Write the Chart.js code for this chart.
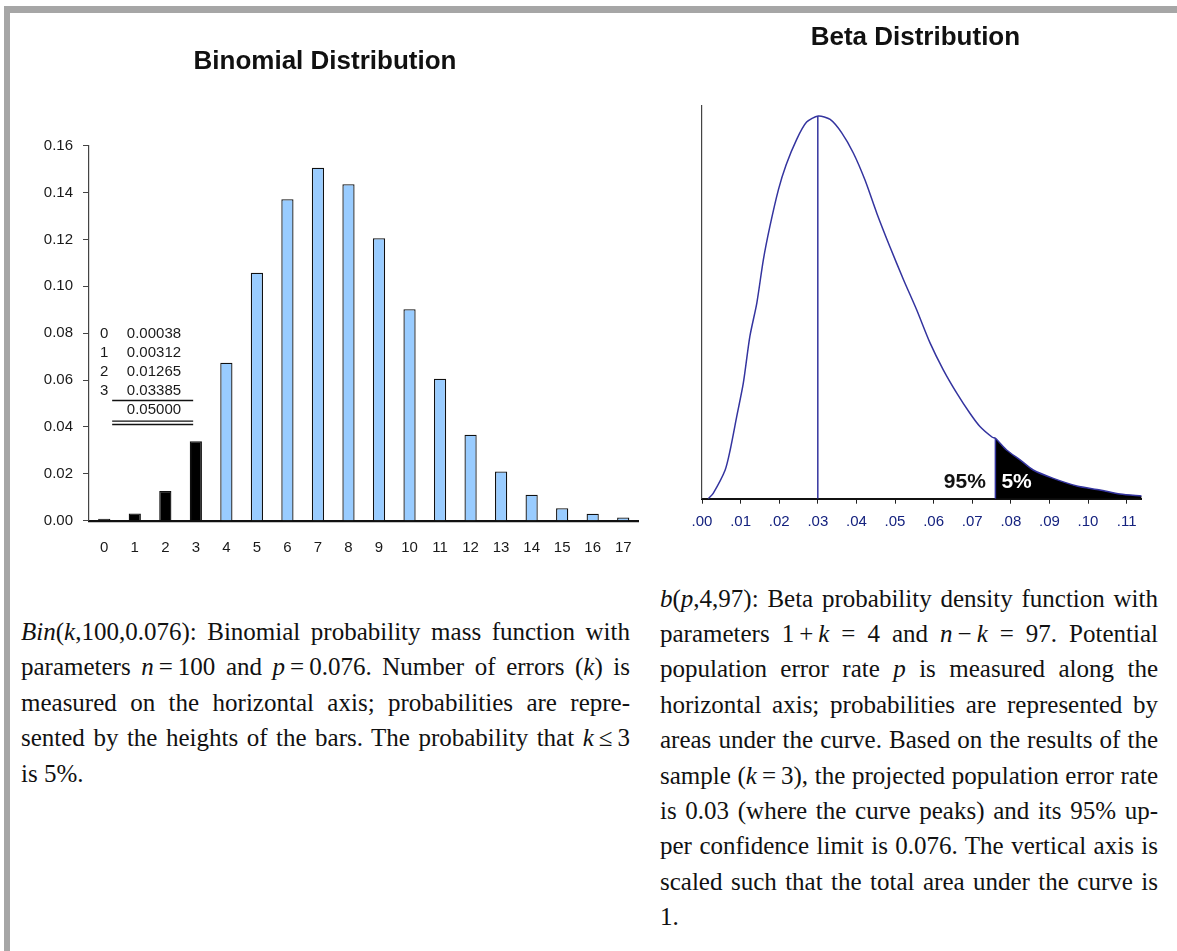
<!DOCTYPE html>
<html>
<head>
<meta charset="utf-8">
<script src="https://cdn.jsdelivr.net/npm/chart.js@4.4.0/dist/chart.umd.min.js"></script>
<style>
  html, body { margin: 0; padding: 0; background: #fff; overflow: hidden; }
  body { width: 1177px; height: 951px; position: relative; }
  .rule-top { position: absolute; left: 4px; top: 5.5px; width: 1173px; height: 7px; background: #a6a6a6; }
  .rule-left { position: absolute; left: 4px; top: 5.5px; width: 6px; height: 946px; background: #a6a6a6; }
  canvas { position: absolute; top: 0; }
  #binomCanvas { left: 0; }
  #betaCanvas { left: 675px; }
  .para { position: absolute; font-family: "Liberation Serif", "Times New Roman", serif;
          font-size: 25px; line-height: 35.4px; color: #111; }
  .para div { text-align: justify; text-align-last: justify; }
  .para div.last { text-align-last: left; }
  #binomText { left: 21px; top: 613.9px; width: 609px; }
  #betaText { left: 660px; top: 580.6px; width: 498px; }
</style>
</head>
<body>
  <div class="rule-top"></div>
  <div class="rule-left"></div>
  <canvas id="binomCanvas" width="650" height="570"></canvas>
  <canvas id="betaCanvas" width="502" height="570"></canvas>

  <div id="binomText" class="para">
    <div><i>Bin</i>(<i>k</i>,100,0.076): Binomial probability mass function with</div>
    <div>parameters <i>n</i>&#8201;=&#8201;100 and <i>p</i>&#8201;=&#8201;0.076. Number of errors (<i>k</i>) is</div>
    <div>measured on the horizontal axis; probabilities are repre-</div>
    <div>sented by the heights of the bars. The probability that <i>k</i>&#8201;≤&#8201;3</div>
    <div class="last">is 5%.</div>
  </div>

  <div id="betaText" class="para">
    <div><i>b</i>(<i>p</i>,4,97): Beta probability density function with</div>
    <div>parameters 1&#8201;+&#8201;<i>k</i> = 4 and <i>n</i>&#8201;−&#8201;<i>k</i> = 97. Potential</div>
    <div>population error rate <i>p</i> is measured along the</div>
    <div>horizontal axis; probabilities are represented by</div>
    <div>areas under the curve. Based on the results of the</div>
    <div>sample (<i>k</i>&#8201;=&#8201;3), the projected population error rate</div>
    <div>is 0.03 (where the curve peaks) and its 95% up-</div>
    <div>per confidence limit is 0.076. The vertical axis is</div>
    <div>scaled such that the total area under the curve is</div>
    <div class="last">1.</div>
  </div>

<script>
// Binomial chart data
const binomK = ['0', '1', '2', '3', '4', '5', '6', '7', '8', '9', '10', '11', '12', '13', '14', '15', '16', '17'];
const binomProb = [0.00038, 0.00312, 0.01265, 0.03385, 0.0674, 0.1058, 0.1372, 0.1506, 0.1436, 0.1205,
                   0.0902, 0.0606, 0.0367, 0.0210, 0.0111, 0.0053, 0.0030, 0.0014];
const lowerTailMax = 3; // bars k <= 3 are shaded black
const binomTableRows = [['0', '0.00038'], ['1', '0.00312'], ['2', '0.01265'], ['3', '0.03385']];
const binomTableTotal = '0.05000';

// Beta chart data
const betaP = [0.0016, 0.0029, 0.0060, 0.0073, 0.0090, 0.0107, 0.0124, 0.0142, 0.0159, 0.0176,
               0.0198, 0.0218, 0.0245, 0.0271, 0.0301, 0.0332, 0.0362, 0.0392, 0.0422, 0.0453,
               0.0487, 0.0522, 0.0556, 0.0591, 0.0625, 0.0660, 0.0694, 0.0720, 0.0752, 0.0760,
               0.0789, 0.0824, 0.0858, 0.0910, 0.0971, 0.1031, 0.1083, 0.1139];
const betaDensity = [0, 0.32, 1.71, 2.9, 4.9, 6.88, 9.67, 11.66, 14.25, 16.24,
                     18.42, 19.9, 21.4, 22.44, 22.8, 22.6, 21.8, 20.6, 19.0, 17.0,
                     15.0, 13.05, 11.26, 9.27, 7.68, 6.29, 5.09, 4.30, 3.66, 3.60,
                     2.90, 2.31, 1.71, 1.21, 0.76, 0.52, 0.28, 0.16];
const modeP = 0.03, modeDensity = 22.8;
const betaLimit = 0.076, limitDensity = 3.60;
const betaTicks = [0, 0.01, 0.02, 0.03, 0.04, 0.05, 0.06, 0.07, 0.08, 0.09, 0.10, 0.11];
const betaTickLabels = ['.00', '.01', '.02', '.03', '.04', '.05', '.06', '.07', '.08', '.09', '.10', '.11'];

Chart.defaults.font.family = '"Liberation Sans", Arial, sans-serif';
Chart.defaults.color = '#1a1a1a';

const navy = '#34349f';

// little sum table drawn inside the binomial plot
const binomTable = {
  id: 'binomTable',
  afterDatasetsDraw(chart) {
    const { ctx, scales: { x, y } } = chart;
    const x0 = x.getPixelForValue(0);
    const yTop = y.getPixelForValue(0.08) + 0.8;
    ctx.save();
    ctx.font = '15px "Liberation Sans", Arial, sans-serif';
    ctx.fillStyle = '#1a1a1a';
    ctx.textBaseline = 'middle';
    binomTableRows.forEach((row, i) => {
      ctx.textAlign = 'center';
      ctx.fillText(row[0], x0, yTop + i * 19);
      ctx.textAlign = 'left';
      ctx.fillText(row[1], x0 + 22.6, yTop + i * 19);
    });
    ctx.fillText(binomTableTotal, x0 + 22.6, yTop + 75.7);
    ctx.strokeStyle = '#111';
    ctx.lineWidth = 1.6;
    ctx.beginPath();
    ctx.moveTo(x0 + 7.9, yTop + 66.5); ctx.lineTo(x0 + 88.9, yTop + 66.5);
    ctx.stroke();
    ctx.lineWidth = 1.3;
    ctx.beginPath();
    ctx.moveTo(x0 + 7.9, yTop + 87.2); ctx.lineTo(x0 + 88.9, yTop + 87.2);
    ctx.moveTo(x0 + 7.9, yTop + 90.5); ctx.lineTo(x0 + 88.9, yTop + 90.5);
    ctx.stroke();
    ctx.restore();
  }
};

// 95% / 5% labels either side of the upper limit
const tailLabels = {
  id: 'tailLabels',
  afterDatasetsDraw(chart) {
    const { ctx, scales: { x, y } } = chart;
    const px = x.getPixelForValue(betaLimit);
    const base = y.getPixelForValue(0) - 10.7;
    ctx.save();
    ctx.font = 'bold 21px "Liberation Sans", Arial, sans-serif';
    ctx.textBaseline = 'alphabetic';
    ctx.fillStyle = '#111';
    ctx.textAlign = 'right';
    ctx.fillText('95%', px - 9.5, base);
    ctx.fillStyle = '#fff';
    ctx.textAlign = 'left';
    ctx.fillText('5%', px + 6, base);
    ctx.restore();
  }
};

new Chart(document.getElementById('binomCanvas'), {
  type: 'bar',
  data: {
    labels: binomK,
    datasets: [{
      data: binomProb,
      backgroundColor: binomK.map((k, i) => i <= lowerTailMax ? '#000000' : '#99ccff'),
      borderColor: '#111',
      borderWidth: 1.3,
      minBarLength: 2,
      barPercentage: 0.4,
      categoryPercentage: 1.0
    }]
  },
  options: {
    responsive: false,
    animation: false,
    layout: { padding: { left: 5, right: 5, top: 0, bottom: 0 } },
    plugins: {
      legend: { display: false },
      tooltip: { enabled: false },
      title: {
        display: true,
        text: 'Binomial Distribution',
        color: '#111',
        font: { size: 26, weight: 'bold' },
        padding: { top: 46.4, bottom: 68.1 }
      }
    },
    scales: {
      x: {
        grid: { display: false, drawTicks: false },
        border: { color: '#111', width: 2.2 },
        ticks: { font: { size: 15 }, padding: 18.3, maxRotation: 0, autoSkip: false },
        afterFit: s => { s.height = 49.3; }
      },
      y: {
        min: 0,
        max: 0.16,
        grid: { drawOnChartArea: false, tickLength: 6, color: '#444' },
        border: { color: '#444', width: 1.2 },
        ticks: { stepSize: 0.02, font: { size: 15 }, padding: 10, callback: v => v.toFixed(2) },
        afterFit: s => { s.width = 84; }
      }
    }
  },
  plugins: [binomTable]
});

const curvePts = betaP.map((p, i) => ({ x: p, y: betaDensity[i] }));
const tailPts = curvePts.filter(pt => pt.x >= betaLimit);

new Chart(document.getElementById('betaCanvas'), {
  type: 'line',
  data: {
    datasets: [
      { data: curvePts, borderColor: navy, borderWidth: 1.5, pointRadius: 0, tension: 0.25, fill: false },
      { data: [{ x: modeP, y: 0 }, { x: modeP, y: modeDensity }], borderColor: navy, borderWidth: 1.5, pointRadius: 0 },
      { data: [{ x: betaLimit, y: 0 }, { x: betaLimit, y: limitDensity }], borderColor: navy, borderWidth: 1.5, pointRadius: 0 },
      { data: tailPts, borderWidth: 0, pointRadius: 0, tension: 0.25, fill: 'origin', backgroundColor: '#000' }
    ]
  },
  options: {
    responsive: false,
    animation: false,
    layout: { padding: { left: 14.1, right: 35.3, top: 0, bottom: 0 } },
    plugins: {
      legend: { display: false },
      tooltip: { enabled: false },
      title: {
        display: true,
        text: 'Beta Distribution',
        color: '#111',
        font: { size: 26, weight: 'bold' },
        padding: { top: 22.4, bottom: 52.4 }
      }
    },
    scales: {
      x: {
        type: 'linear',
        min: 0,
        max: 0.1139,
        grid: { drawOnChartArea: false, tickLength: 5, color: '#222' },
        border: { color: '#111', width: 2 },
        ticks: {
          font: { size: 15 }, color: '#15227f', padding: 8.8, includeBounds: false,
          autoSkip: false, maxRotation: 0, callback: (v, i) => betaTickLabels[i]
        },
        afterBuildTicks: s => { s.ticks = betaTicks.map(v => ({ value: v })); },
        afterFit: s => { s.height = 71.3; }
      },
      y: {
        min: 0,
        max: 23.4,
        ticks: { display: false },
        grid: { display: false, drawTicks: false },
        border: { color: '#444', width: 1.2 },
        afterFit: s => { s.width = 12.9; }
      }
    }
  },
  plugins: [tailLabels]
});
</script>
</body>
</html>
